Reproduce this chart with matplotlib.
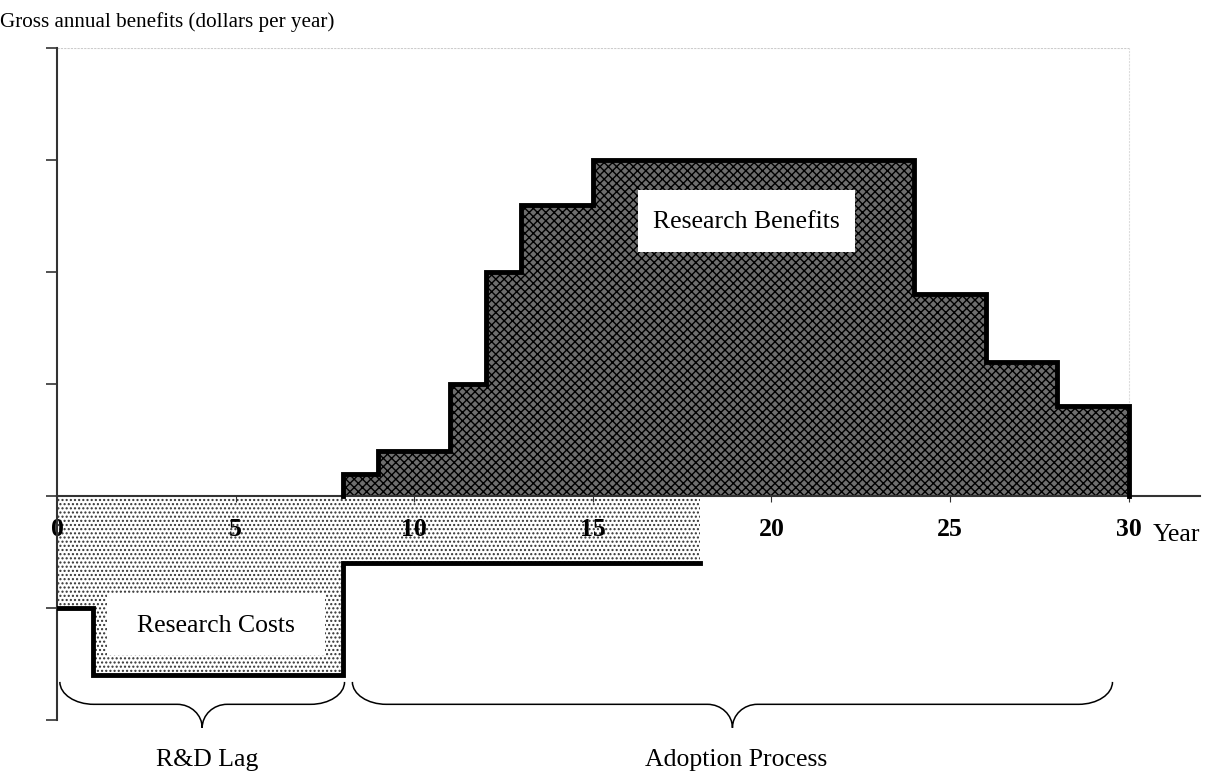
import matplotlib
matplotlib.use("Agg")
import matplotlib.pyplot as plt
from matplotlib.patches import Rectangle, PathPatch
from matplotlib.path import Path

plt.rcParams["font.family"] = ["Liberation Serif", "DejaVu Serif"]
plt.rcParams["hatch.linewidth"] = 1.0

# step edges (years) and heights of each step
benefit_years = [8, 9, 11, 12, 13, 15, 24, 26, 28, 30]
benefit_values = [0.2, 0.4, 1.0, 2.0, 2.6, 3.0, 1.8, 1.2, 0.8]
cost_years = [0, 1, 8, 18]
cost_values = [-1.0, -1.6, -0.6]
x_ticks = [0, 5, 10, 15, 20, 25, 30]
y_ticks = [-2, -1, 0, 1, 2, 3, 4]

K = 0.552  # bezier constant for a quarter ellipse


def step_xy(edges, values):
    # closed outline of a step area, starting and ending on zero
    xs, ys = [edges[0]], [0]
    for i, v in enumerate(values):
        xs += [edges[i], edges[i + 1]]
        ys += [v, v]
    xs.append(edges[-1])
    ys.append(0)
    return xs, ys


def brace(ax, x0, x1, y_top, y_mid, y_tip):
    xm = (x0 + x1) / 2
    re, he = 0.95, y_top - y_mid      # end curls
    rm, hm = 0.7, y_mid - y_tip       # middle point
    verts = [
        (x0, y_top),
        (x0, y_top - K * he), (x0 + re * (1 - K), y_mid), (x0 + re, y_mid),
        (xm - rm, y_mid),
        (xm - rm * (1 - K), y_mid), (xm, y_tip + K * hm), (xm, y_tip),
        (xm, y_tip + K * hm), (xm + rm * (1 - K), y_mid), (xm + rm, y_mid),
        (x1 - re, y_mid),
        (x1 - re * (1 - K), y_mid), (x1, y_top - K * he), (x1, y_top),
    ]
    codes = [Path.MOVETO,
             Path.CURVE4, Path.CURVE4, Path.CURVE4,
             Path.LINETO,
             Path.CURVE4, Path.CURVE4, Path.CURVE4,
             Path.CURVE4, Path.CURVE4, Path.CURVE4,
             Path.LINETO,
             Path.CURVE4, Path.CURVE4, Path.CURVE4]
    ax.add_patch(PathPatch(Path(verts, codes), fill=False, lw=1.1,
                           edgecolor="black", clip_on=False))


fig = plt.figure(figsize=(12.25, 7.76), dpi=100)
ax = fig.add_axes([57 / 1225, 1 - 720 / 776, (1200 - 57) / 1225, (720 - 48) / 776])
ax.set_xlim(0, 32)
ax.set_ylim(-2, 4)

# research costs area
cx, cy = step_xy(cost_years, cost_values)
ax.fill(cx, cy, facecolor="white", edgecolor="#333333", hatch="....", lw=0, zorder=1)
ax.plot(cx[1:-1], cy[1:-1], color="black", lw=3.5, solid_joinstyle="miter", zorder=4)

# research benefits area
bx, by = step_xy(benefit_years, benefit_values)
ax.fill(bx, by, facecolor="#6e6e6e", edgecolor="black", hatch="xxxx", lw=0, zorder=1)
ax.plot(bx, by, color="black", lw=3.5, solid_joinstyle="miter", zorder=4)

# faint frame of the plot area
ax.plot([0, 30], [4, 4], color="#cccccc", lw=0.8, ls=(0, (2, 1)), zorder=0)
ax.plot([30, 30], [0, 4], color="#dddddd", lw=0.8, ls=(0, (2, 1)), zorder=0)

# labels in white boxes
ax.add_patch(Rectangle((16.27, 2.18), 6.07, 0.55, facecolor="white", edgecolor="none", zorder=5))
ax.text(19.3, 2.45, "Research Benefits", ha="center", va="center", fontsize=18.5, zorder=6)
ax.add_patch(Rectangle((1.40, -1.42), 6.09, 0.545, facecolor="white", edgecolor="none", zorder=5))
ax.text(4.45, -1.16, "Research Costs", ha="center", va="center", fontsize=18.5, zorder=6)

# axes
for s in ["top", "right"]:
    ax.spines[s].set_visible(False)
ax.spines["bottom"].set_position(("data", 0))
ax.spines["bottom"].set_color("#333333")
ax.spines["bottom"].set_linewidth(1.5)
ax.spines["bottom"].set_zorder(3)
ax.spines["left"].set_color("#333333")
ax.spines["left"].set_linewidth(1.5)
ax.spines["left"].set_zorder(3)
ax.set_xticks(x_ticks)
ax.set_xticklabels([str(t) for t in x_ticks], fontweight="bold", fontsize=18.5)
ax.set_yticks(y_ticks)
ax.set_yticklabels([])
ax.tick_params(axis="x", direction="out", length=4, width=0.8, color="#333333", pad=12)
ax.tick_params(axis="y", direction="out", length=8, width=1.2, color="#333333")
ax.text(30.68, -0.345, "Year", ha="left", va="center", fontsize=18.5)

# braces
brace(ax, 0.08, 8.05, -1.66, -1.86, -2.07)
ax.text(4.2, -2.36, "R&D Lag", ha="center", va="center", fontsize=18.5)
brace(ax, 8.27, 29.55, -1.66, -1.86, -2.07)
ax.text(19.0, -2.36, "Adoption Process", ha="center", va="center", fontsize=18.5)

fig.text(0.0, 1 - 22 / 776, "Gross annual benefits (dollars per year)", ha="left",
         va="center", fontsize=15.2)

fig.savefig("out.png", dpi=100)
